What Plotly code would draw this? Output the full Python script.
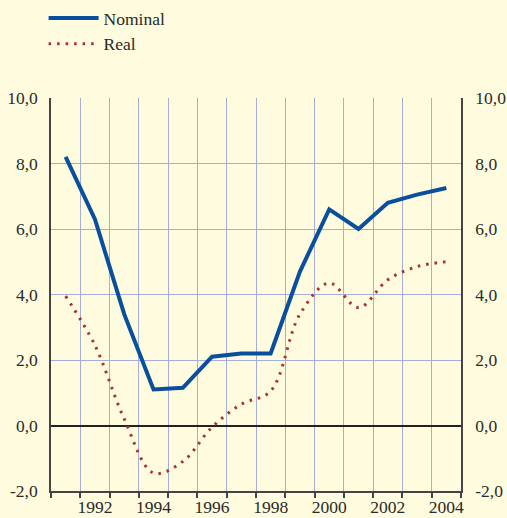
import plotly.graph_objects as go

years = list(range(1991, 2005))
nominal = [8.2, 6.3, 3.4, 1.1, 1.15, 2.1, 2.2, 2.2, 4.7, 6.6, 6.0, 6.8, 7.05, 7.25]
real = [3.95, 2.45, 0.2, -1.45, -1.1, -0.05, 0.65, 1.05, 3.4, 4.35, 3.6, 4.45, 4.85, 5.0]
label_years = [1992, 1994, 1996, 1998, 2000, 2002, 2004]
yticks = [-2, 0, 2, 4, 6, 8, 10]
ytick_text = ["-2,0", "0,0", "2,0", "4,0", "6,0", "8,0", "10,0"]

bg = "#FEFBDE"
grid = "#A3AEDB"
axis_col = "#444444"
font = dict(family="Liberation Serif", size=17.5, color="#2a2a2a")

fig = go.Figure()
fig.add_trace(go.Scatter(x=years, y=nominal, name="Nominal", mode="lines",
                         line=dict(color="#0A4F9E", width=4)))
fig.add_trace(go.Scatter(x=years, y=real, name="Real", mode="lines",
                         line=dict(color="#A83232", width=3, dash="2.5px,6px", shape="spline", smoothing=1.0)))
fig.add_trace(go.Scatter(x=years, y=nominal, yaxis="y2", xaxis="x2", mode="lines",
                         line=dict(width=0), showlegend=False, hoverinfo="skip", opacity=0))

grid_vals = [y + 0.5 for y in range(1990, 2005)]
fig.update_layout(
    width=507, height=518,
    paper_bgcolor=bg, plot_bgcolor=bg,
    margin=dict(l=51, r=46, t=98, b=27, autoexpand=False),
    font=font,
    showlegend=True,
    legend=dict(xref="container", yref="container", x=0.086, y=1.0, xanchor="left", yanchor="top",
                bgcolor="rgba(0,0,0,0)", font=font, tracegroupgap=0, itemwidth=50),
    xaxis=dict(range=[1990.5, 2004.5], tickvals=grid_vals, ticktext=[""] * len(grid_vals),
               showgrid=True, gridcolor=grid, gridwidth=1,
               ticks="outside", ticklen=5, tickcolor=axis_col, tickwidth=1.5,
               showline=True, linecolor=axis_col, linewidth=1.5, zeroline=False),
    xaxis2=dict(range=[1990.5, 2004.5], overlaying="x", tickvals=label_years,
                ticktext=[str(v) for v in label_years], showgrid=False, showline=False,
                ticks="", zeroline=False, side="bottom", anchor="y", ticklabelstandoff=3),
    yaxis=dict(range=[-2, 10], tickvals=yticks, ticktext=ytick_text, showgrid=True,
               gridcolor=grid, gridwidth=1, showline=True, linecolor=axis_col, linewidth=1.5,
               zeroline=True, zerolinecolor="#222222", zerolinewidth=1.5, ticks="", ticklabelstandoff=8),
    yaxis2=dict(range=[-2, 10], tickvals=yticks, ticktext=ytick_text, overlaying="y", side="right",
                showgrid=False, showline=True, linecolor=axis_col, linewidth=1.5, zeroline=False,
                ticks="", ticklabelstandoff=9),
)
fig.write_html("out.html", config={"displayModeBar": False},
               post_script="document.body.style.margin='0';document.body.style.background='" + bg + "';")
